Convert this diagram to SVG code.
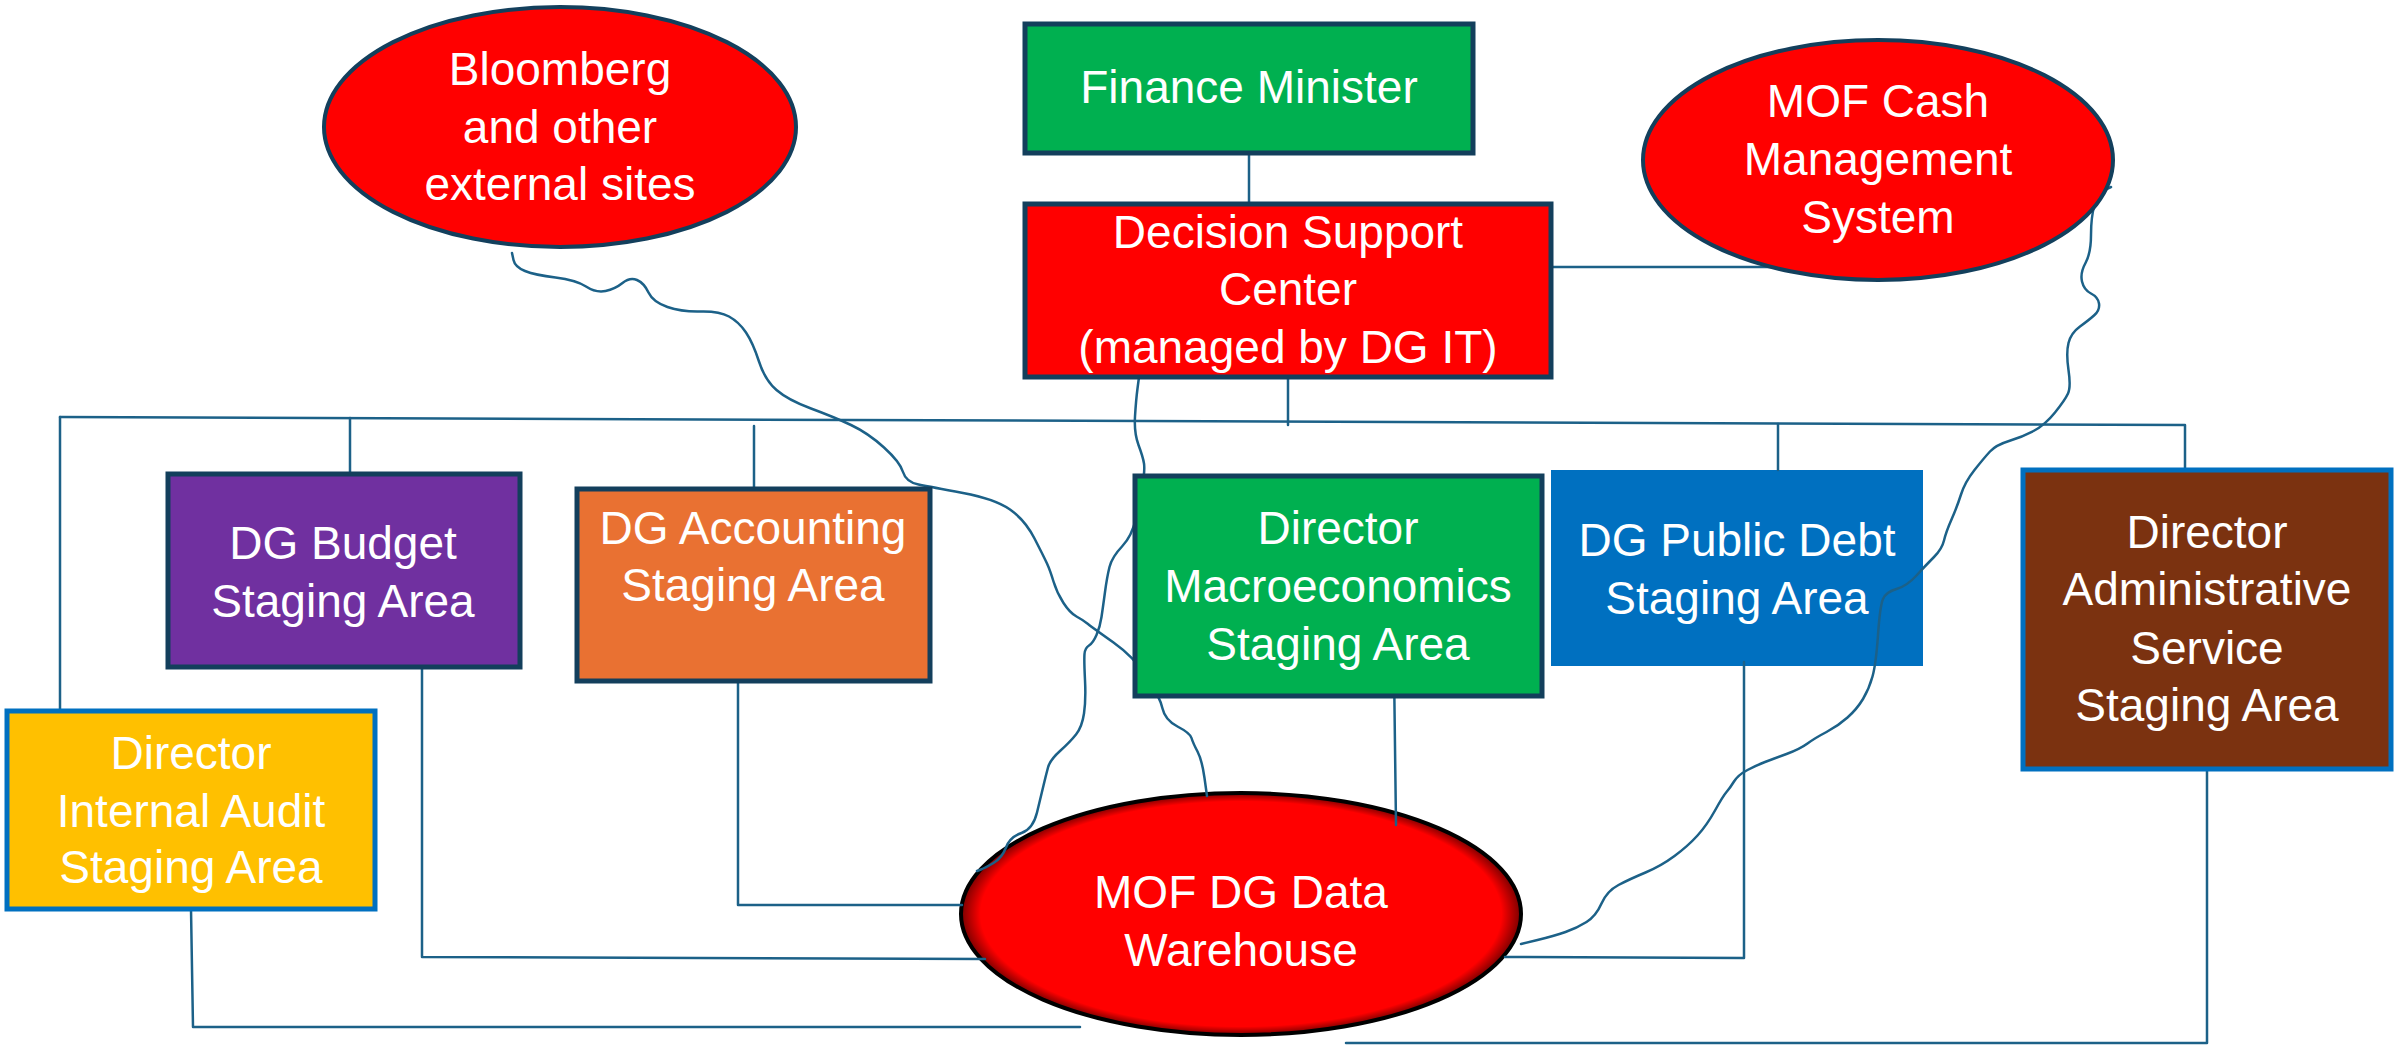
<svg xmlns="http://www.w3.org/2000/svg" width="2405" height="1046" viewBox="0 0 2405 1046">
<style>
.t{font-family:"Liberation Sans",Arial,sans-serif;font-size:46px;fill:#fff;text-anchor:middle}
.c{fill:none;stroke:#1C6188;stroke-width:2.5;stroke-linejoin:round;stroke-linecap:round}
.nb{stroke:#133F5C;stroke-width:5}
.bb{stroke:#0070C0;stroke-width:5}
</style>
<defs>
<radialGradient id="wg" cx="0.5" cy="0.5" r="0.5">
<stop offset="0" stop-color="#FF0000"/>
<stop offset="0.93" stop-color="#FF0000"/>
<stop offset="1" stop-color="#7A0000"/>
</radialGradient>
</defs>
<rect width="2405" height="1046" fill="#fff"/>

<g id="node-warehouse">
<ellipse cx="1241" cy="914" rx="280" ry="121" fill="url(#wg)" stroke="#000" stroke-width="4"/>
<text class="t" x="1241" y="908">MOF DG Data</text>
<text class="t" x="1241" y="966">Warehouse</text>
</g>
<g id="node-public-debt">
<rect x="1551" y="470" width="372" height="196" fill="#0070C0"/>
<text class="t" x="1737" y="556">DG Public Debt</text>
<text class="t" x="1737" y="614">Staging Area</text>
</g>

<g id="connectors">
<path class="c" d="M1249 153V203"/>
<path class="c" d="M1288 377V425"/>
<path class="c" d="M1551 267H1775"/>
<path class="c" d="M60 417L2185 425V468"/>
<path class="c" d="M60 417V712"/>
<path class="c" d="M350 418V473"/>
<path class="c" d="M754 426V488"/>
<path class="c" d="M1778 424V470"/>
<path class="c" d="M738 681V905H962"/>
<path class="c" d="M422 667V957L985 959"/>
<path class="c" d="M191 909L193 1027H1080"/>
<path class="c" d="M1744 662V958L1505 957"/>
<path class="c" d="M2207 769V1043H1346"/>
<path class="c" d="M1394 668L1396 825"/>
<path class="c" d="M512 253 L513.5 260 Q515 267 525 271 Q535 275 555.5 277.5 Q576 280 586 286.5 Q596 293 605.5 291 Q615 289 622.5 283 Q630 277 637 280 Q644 283 648.5 292.5 Q653 302 667.5 307 Q682 312 700.5 311.5 Q719 311 729 316.5 Q739 322 746 332.5 Q753 343 759 361.5 Q765 380 776.5 390 Q788 400 811 408.5 Q834 417 851 425 Q868 433 884 447.5 Q900 462 903 472 Q906 482 918.5 484.5 Q931 487 963 493 Q995 499 1010 509.5 Q1025 520 1034.5 538.5 Q1044 557 1047 563.5 Q1050 570 1053.5 581.5 Q1057 593 1063.5 603 Q1070 613 1076.5 616.5 Q1083 620 1088 624 Q1093 628 1113.5 642.5 Q1134 657 1147 677 Q1160 697 1162.5 708.5 Q1165 720 1177.5 726.5 Q1190 733 1191.5 738 Q1193 743 1197.5 751.5 Q1202 760 1204.5 778 L1207 796"/>
<path class="c" d="M1139 377 L1137.5 388.5 Q1136 400 1135 416.5 Q1134 433 1138.5 445 Q1143 457 1144 463.5 Q1145 470 1142.5 485 Q1140 500 1136 518 Q1132 536 1122 546.5 Q1112 557 1109.5 567 Q1107 577 1105 592 Q1103 607 1101.5 617 Q1100 627 1096.5 635 Q1093 643 1089 645.5 Q1085 648 1084.5 654 Q1084 660 1085 680 Q1086 700 1084 713.5 Q1082 727 1076 734.5 Q1070 742 1060 751 Q1050 760 1048 767.5 Q1046 775 1043.5 785.5 Q1041 796 1037 812.5 Q1033 829 1021.5 833 Q1010 837 1006 847.5 Q1002 858 993.5 863 Q985 868 981 869.5 L977 871"/>
<path class="c" d="M2111 187 L2104.5 190 Q2098 193 2094.5 205 Q2091 217 2091 235 Q2091 253 2085.5 263 Q2080 273 2082 281.5 Q2084 290 2091 293.5 Q2098 297 2099 303.5 Q2100 310 2094.5 315 Q2089 320 2080 326.5 Q2071 333 2068.5 343 Q2066 353 2068.5 370 Q2071 387 2068 393.5 Q2065 400 2055 412.5 Q2045 425 2033.5 431 Q2022 437 2009 441 Q1996 445 1990 451.5 Q1984 458 1974.5 470 Q1965 482 1961 494.5 Q1957 507 1951.5 519.5 Q1946 532 1944 540.5 Q1942 549 1934 557 Q1926 565 1916.5 575.5 Q1907 586 1896.5 589 Q1886 592 1883 599 Q1880 606 1878 635 Q1876 664 1872.5 676.5 Q1869 689 1863 699 Q1857 709 1847.5 717.5 Q1838 726 1826.5 732 Q1815 738 1807.5 743.5 Q1800 749 1786.5 754 Q1773 759 1765 762 Q1757 765 1747.5 770 Q1738 775 1734 781.5 Q1730 788 1726.5 792 Q1723 796 1715 810.5 Q1707 825 1697.5 835.5 Q1688 846 1674.5 856 Q1661 866 1645.5 872.5 Q1630 879 1618.5 885 Q1607 891 1601.5 903.5 Q1596 916 1586.5 922 Q1577 928 1565.5 932 Q1554 936 1537.5 940 L1521 944"/>
</g>

<g id="node-bloomberg">
<ellipse cx="560" cy="127" rx="236" ry="120" fill="#FF0000" stroke="#133F5C" stroke-width="4"/>
<text class="t" x="560" y="85">Bloomberg</text>
<text class="t" x="560" y="143">and other</text>
<text class="t" x="560" y="200">external sites</text>
</g>
<g id="node-finance-minister">
<rect x="1025" y="24" width="448" height="129" fill="#00B050" class="nb"/>
<text class="t" x="1249" y="103">Finance Minister</text>
</g>
<g id="node-dsc">
<rect x="1025" y="204" width="526" height="173" fill="#FF0000" class="nb"/>
<text class="t" x="1288" y="248">Decision Support</text>
<text class="t" x="1288" y="305">Center</text>
<text class="t" x="1288" y="363">(managed by DG IT)</text>
</g>
<g id="node-cash">
<ellipse cx="1878" cy="160" rx="235" ry="120" fill="#FF0000" stroke="#133F5C" stroke-width="4"/>
<text class="t" x="1878" y="117">MOF Cash</text>
<text class="t" x="1878" y="175">Management</text>
<text class="t" x="1878" y="233">System</text>
</g>
<g id="node-budget">
<rect x="168" y="474" width="352" height="193" fill="#7030A0" class="nb"/>
<text class="t" x="343" y="559">DG Budget</text>
<text class="t" x="343" y="617">Staging Area</text>
</g>
<g id="node-accounting">
<rect x="577" y="489" width="353" height="192" fill="#E97132" class="nb"/>
<text class="t" x="753" y="544">DG Accounting</text>
<text class="t" x="753" y="601">Staging Area</text>
</g>
<g id="node-macro">
<rect x="1135" y="476" width="407" height="220" fill="#00B050" class="nb"/>
<text class="t" x="1338" y="544">Director</text>
<text class="t" x="1338" y="602">Macroeconomics</text>
<text class="t" x="1338" y="660">Staging Area</text>
</g>
<g id="node-admin">
<rect x="2023" y="470" width="368" height="299" fill="#7B3210" class="bb"/>
<text class="t" x="2207" y="548">Director</text>
<text class="t" x="2207" y="605">Administrative</text>
<text class="t" x="2207" y="664">Service</text>
<text class="t" x="2207" y="721">Staging Area</text>
</g>
<g id="node-audit">
<rect x="7" y="711" width="368" height="198" fill="#FFC000" class="bb"/>
<text class="t" x="191" y="769">Director</text>
<text class="t" x="191" y="827">Internal Audit</text>
<text class="t" x="191" y="883">Staging Area</text>
</g>
</svg>
